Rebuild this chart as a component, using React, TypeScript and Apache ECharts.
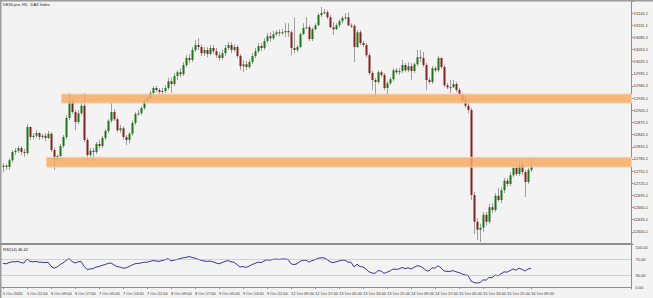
import React, { useEffect, useRef } from 'react';
import * as echarts from 'echarts';

const chartTitle = 'DE30.pro, H1:  DAX Index';
const rsiTitle = 'RSI(14) 46.42';

const tickLabels = ['5 Oct 2020', '5 Oct 21:00', '6 Oct 09:00', '6 Oct 17:00', '7 Oct 05:00', '7 Oct 13:00', '7 Oct 21:00', '8 Oct 09:00', '8 Oct 17:00', '9 Oct 05:00', '9 Oct 13:00', '9 Oct 21:00', '12 Oct 09:00', '12 Oct 17:00', '13 Oct 05:00', '13 Oct 13:00', '13 Oct 21:00', '14 Oct 09:00', '14 Oct 17:00', '15 Oct 05:00', '15 Oct 13:00', '15 Oct 21:00', '16 Oct 09:00'];
const barsPerTick = 8;
const slotCount = 210;

const opens = [
  12765, 12768, 12765, 12782, 12802, 12805, 12812, 12802, 12800, 12864,
  12839, 12842, 12849, 12839, 12842, 12837, 12847, 12807, 12785, 12792,
  12817, 12839, 12886, 12928, 12901, 12876, 12898, 12916, 12832, 12795,
  12805, 12802, 12822, 12817, 12837, 12854, 12879, 12901, 12883, 12856,
  12861, 12839, 12832, 12847, 12874, 12896, 12898, 12911, 12928, 12935,
  12948, 12960, 12955, 12950, 12953, 12960, 12977, 12970, 12990, 12999,
  12994, 13017, 13034, 13029, 13054, 13066, 13061, 13046, 13054,
  13044, 13059, 13051, 13041, 13034, 13046, 13059, 13066, 13054, 13061,
  13039, 13014, 13019, 13012, 13024, 13039, 13051, 13064, 13059, 13076,
  13088, 13083, 13093, 13098, 13096, 13098, 13101, 13098, 13059, 13054,
  13061, 13093, 13108, 13110, 13081, 13105, 13115, 13140, 13145, 13147,
  13135, 13110, 13105, 13115, 13125, 13133, 13135, 13115, 13113, 13061,
  13098, 13071, 13066, 13041, 12997, 12980, 12975, 12999, 12992, 12960,
  12972, 12982, 13004, 12999, 13002, 13017, 13004, 13014, 13002, 13019,
  13036, 13034, 13017, 12980, 12975, 13009, 13004, 13034, 13012, 12967, 12962,
  12962, 12970, 12955, 12943, 12930, 12916, 12906, 12696, 12630, 12610,
  12615, 12647, 12630, 12666, 12659, 12694, 12684, 12708, 12731, 12723,
  12745, 12763, 12748, 12770, 12753, 12728, 12758,
];
const closes = [
  12768, 12765, 12782, 12802, 12805, 12812, 12802, 12800, 12864, 12839,
  12842, 12849, 12839, 12842, 12837, 12847, 12807, 12785, 12792, 12817,
  12839, 12886, 12928, 12901, 12876, 12898, 12916, 12832, 12795, 12805,
  12802, 12822, 12817, 12837, 12854, 12879, 12901, 12883, 12856, 12861,
  12839, 12832, 12847, 12874, 12896, 12898, 12911, 12928, 12935, 12948,
  12960, 12955, 12950, 12953, 12960, 12977, 12970, 12990, 12999, 12994,
  13017, 13034, 13029, 13054, 13066, 13061, 13046, 13054, 13044,
  13059, 13051, 13041, 13034, 13046, 13059, 13066, 13054, 13061, 13039,
  13014, 13019, 13012, 13024, 13039, 13051, 13064, 13059, 13076, 13088,
  13083, 13093, 13098, 13096, 13098, 13101, 13098, 13059, 13054, 13061,
  13093, 13108, 13110, 13081, 13105, 13115, 13140, 13145, 13147, 13135,
  13110, 13105, 13115, 13125, 13133, 13135, 13115, 13113, 13061, 13098,
  13071, 13066, 13041, 12997, 12980, 12975, 12999, 12992, 12960, 12972,
  12982, 13004, 12999, 13002, 13017, 13004, 13014, 13002, 13019, 13036,
  13034, 13017, 12980, 12975, 13009, 13004, 13034, 13012, 12967, 12962, 12961,
  12970, 12955, 12943, 12930, 12916, 12906, 12696, 12630, 12610, 12615,
  12647, 12630, 12666, 12659, 12694, 12684, 12708, 12731, 12723, 12745,
  12763, 12748, 12770, 12753, 12728, 12758, 12768,
];
const lows = [
  12753, 12758, 12758, 12777, 12795, 12800, 12795, 12790, 12795, 12832,
  12834, 12837, 12832, 12834, 12829, 12834, 12802, 12758, 12777, 12787,
  12812, 12834, 12881, 12896, 12856, 12871, 12893, 12827, 12782, 12787,
  12775, 12797, 12810, 12812, 12832, 12849, 12874, 12879, 12851, 12849,
  12832, 12819, 12824, 12842, 12869, 12891, 12893, 12906, 12923, 12930,
  12943, 12950, 12945, 12945, 12948, 12955, 12948, 12965, 12980, 12987,
  12990, 13012, 13022, 13024, 13049, 13054, 13039, 13039, 13036,
  13041, 13044, 13034, 13027, 13029, 13039, 13054, 13046, 13049, 13034,
  13004, 12999, 13004, 13007, 13019, 13034, 13046, 13051, 13054, 13071,
  13073, 13078, 13088, 13088, 13091, 13086, 13086, 13041, 13046, 13049,
  13059, 13091, 13105, 13076, 13076, 13103, 13113, 13135, 13142, 13130,
  13108, 13091, 13103, 13110, 13120, 13128, 13113, 13108, 13024, 13059,
  13066, 13061, 13036, 12992, 12955, 12938, 12970, 12987, 12955, 12943,
  12967, 12977, 12994, 12992, 12997, 12999, 12999, 12980, 12997, 13014,
  13024, 13012, 12955, 12970, 12970, 12999, 12999, 13007, 12962, 12957, 12948,
  12960, 12950, 12938, 12925, 12911, 12898, 12684, 12600, 12585, 12580,
  12605, 12620, 12625, 12652, 12654, 12679, 12676, 12701, 12716, 12718,
  12740, 12743, 12743, 12745, 12691, 12723, 12753,
];
const highs = [
  12775, 12773, 12787, 12807, 12812, 12817, 12817, 12810, 12871, 12866,
  12849, 12856, 12851, 12847, 12849, 12854, 12851, 12812, 12795, 12822,
  12844, 12893, 12948, 12933, 12906, 12906, 12928, 12948, 12837, 12812,
  12812, 12827, 12832, 12842, 12859, 12883, 12923, 12908, 12888, 12869,
  12866, 12844, 12851, 12879, 12901, 12906, 12916, 12933, 12940, 12953,
  12965, 12965, 12960, 12960, 12967, 12985, 12985, 12997, 13004, 13009,
  13024, 13041, 13044, 13061, 13078, 13083, 13068, 13061, 13061,
  13066, 13066, 13059, 13049, 13054, 13066, 13073, 13073, 13068, 13066,
  13044, 13029, 13027, 13031, 13046, 13059, 13071, 13071, 13083, 13096,
  13098, 13101, 13103, 13105, 13105, 13120, 13120, 13103, 13133, 13066,
  13096, 13120, 13135, 13115, 13110, 13120, 13145, 13160, 13155, 13152,
  13140, 13123, 13120, 13130, 13138, 13145, 13147, 13120, 13118, 13103,
  13103, 13076, 13071, 13046, 13002, 12985, 13004, 13004, 12997, 12977,
  12987, 13009, 13009, 13009, 13029, 13022, 13024, 13022, 13024, 13054,
  13054, 13049, 13022, 12985, 13014, 13014, 13039, 13036, 13017, 12972, 12980,
  12980, 12975, 12960, 12948, 12943, 12935, 12911, 12703, 12639, 12625,
  12654, 12654, 12674, 12676, 12701, 12713, 12716, 12738, 12738, 12753,
  12770, 12770, 12782, 12777, 12758, 12763, 12787,
];

const rsiValues = [
  59, 58, 61, 63, 63, 64, 61, 60, 70, 64,
  63, 64, 62, 62, 61, 62, 52, 47, 50, 56,
  60, 66, 71, 64, 60, 63, 64, 52, 44, 45,
  46, 50, 51, 54, 56, 59, 60, 55, 51, 50,
  47, 48, 51, 55, 58, 59, 60, 62, 62, 64,
  66, 65, 64, 66, 68, 71, 65, 67, 69, 71,
  73, 74, 76, 74, 72, 69, 67, 65, 64, 65,
  63, 60, 58, 61, 64, 66, 63, 62, 56, 50,
  51, 49, 52, 56, 59, 62, 61, 65, 68, 67,
  69, 70, 69, 70, 70, 69, 58, 56, 58, 64,
  67, 67, 62, 66, 68, 72, 73, 73, 69, 63,
  61, 63, 65, 67, 67, 62, 62, 50, 57, 51,
  50, 45, 38, 35, 34, 41, 40, 34, 37, 40,
  45, 44, 45, 49, 46, 48, 45, 49, 53, 52,
  48, 41, 40, 48, 47, 53, 48, 40, 39, 39,
  41, 38, 36, 33, 30, 29, 15, 11, 10, 11,
  18, 17, 24, 23, 30, 28, 33, 38, 37, 41,
  45, 42, 47, 44, 40, 45, 46.42,
];
const rsiLevels = [70, 30];
const rsiLabelValues = [0, 30, 70, 100];

// zones: [first bar, upper price, lower price]
const zoneStarts = [20, 15];
const zoneTops = [12945, 12789];
const zoneBottoms = [12923, 12765];

const FONT = '"Liberation Sans", Arial, sans-serif';
const AXIS_GRAY = '#8e8e8e';
const BULL = '#167a16';
const BEAR = '#8a1f1f';
const WICK = '#9e9e9e';

export default function App() {
  const ref = useRef<HTMLDivElement>(null);
  useEffect(() => {
    if (!ref.current) return;
    const chart = echarts.init(ref.current, null, { renderer: 'svg' });
    const slots = Array.from({ length: slotCount }, (_, i) => String(i));
    const candleData = opens.map((o, i) => [i, o, closes[i], lows[i], highs[i]]);
    const zoneData = zoneStarts.map((s, i) => [s, zoneTops[i], zoneBottoms[i]]);
    const showTick = (index: number) => index % barsPerTick === 0 && index / barsPerTick < tickLabels.length;

    const option: any = {
      animation: false,
      backgroundColor: '#f3f3f3',
      grid: [
        { left: 1.5, top: 1.5, width: 630, height: 242.5, show: false },
        { left: 1.5, top: 245, width: 630, height: 44, show: false },
      ],
      xAxis: [
        {
          type: 'category', gridIndex: 0, data: slots, boundaryGap: true,
          axisLine: { show: true, lineStyle: { color: AXIS_GRAY, width: 2 } },
          axisTick: { show: false }, axisLabel: { show: false }, splitLine: { show: false },
        },
        {
          type: 'category', gridIndex: 1, data: slots, boundaryGap: true,
          axisLine: { show: true, lineStyle: { color: AXIS_GRAY, width: 1 } },
          axisTick: { show: true, interval: showTick, alignWithLabel: true, length: 2, lineStyle: { color: AXIS_GRAY } },
          axisLabel: {
            interval: showTick, align: 'left', margin: 2, fontSize: 4, color: '#333', fontFamily: FONT,
            formatter: (v: string) => tickLabels[Number(v) / barsPerTick] ?? '',
          },
          splitLine: { show: false },
        },
      ],
      yAxis: [
        {
          type: 'value', gridIndex: 0, position: 'right', min: 12575.1, max: 13173.6, interval: 30,
          axisLine: { show: true, lineStyle: { color: AXIS_GRAY } },
          axisTick: { show: true, length: 2, lineStyle: { color: AXIS_GRAY } },
          axisLabel: {
            margin: 2, fontSize: 4, color: '#333', fontFamily: FONT,
            formatter: (v: number) => (v > 12590 && v < 13150 ? v.toFixed(1) : ''),
          },
          splitLine: { show: false },
        },
        {
          type: 'value', gridIndex: 1, position: 'right', min: -5, max: 105, interval: 5,
          axisLine: { show: true, lineStyle: { color: AXIS_GRAY } },
          axisTick: { show: false },
          axisLabel: {
            margin: 4, fontSize: 4, color: '#333', fontFamily: FONT,
            formatter: (v: number) => (rsiLabelValues.some((r) => Math.abs(r - v) < 1e-6) ? v.toFixed(2) : ''),
          },
          splitLine: { show: false },
        },
      ],
      series: [
        {
          type: 'custom', xAxisIndex: 0, yAxisIndex: 0, data: candleData, z: 2, clip: true,
          encode: { x: 0, y: [1, 2, 3, 4] },
          renderItem: (params: any, api: any) => {
            const i = api.value(0);
            const o = api.value(1), c = api.value(2), l = api.value(3), h = api.value(4);
            const pO = api.coord([i, o]);
            const pC = api.coord([i, c]);
            const pL = api.coord([i, l]);
            const pH = api.coord([i, h]);
            const x = Math.round(pO[0]);
            const top = Math.min(pO[1], pC[1]);
            const bodyH = Math.max(1, Math.abs(pO[1] - pC[1]));
            const col = c > o ? BULL : c < o ? BEAR : '#777';
            return {
              type: 'group',
              children: [
                { type: 'line', shape: { x1: x + 0.5, y1: pH[1], x2: x + 0.5, y2: pL[1] }, style: { stroke: WICK, lineWidth: 1 } },
                { type: 'rect', shape: { x: x - 0.5, y: top, width: 2, height: bodyH }, style: { fill: col } },
              ],
            };
          },
        },
        {
          type: 'custom', xAxisIndex: 0, yAxisIndex: 0, data: zoneData, z: 3, clip: true,
          encode: { x: 0, y: [1, 2] },
          renderItem: (params: any, api: any) => {
            const s = api.value(0);
            const pT = api.coord([s, api.value(1)]);
            const pB = api.coord([s, api.value(2)]);
            const cs = params.coordSys;
            const x0 = pT[0] - 1.5;
            return {
              type: 'rect',
              shape: { x: x0, y: pT[1], width: cs.x + cs.width - x0, height: pB[1] - pT[1] },
              style: { fill: 'rgba(247,172,101,0.85)', stroke: 'rgba(250,208,168,0.95)', lineWidth: 1 },
            };
          },
        },
        {
          type: 'line', xAxisIndex: 1, yAxisIndex: 1, data: rsiValues, symbol: 'none', z: 3,
          lineStyle: { color: '#3a3a96', width: 1 },
          markLine: {
            silent: true, symbol: ['none', 'none'], label: { show: false },
            lineStyle: { type: 'dotted', color: '#b0b0b0', width: 1 },
            data: rsiLevels.map((v) => ({ yAxis: v })),
          },
        },
      ],
      graphic: [
        { type: 'rect', left: 0, top: 0, shape: { width: 653, height: 1.5 }, style: { fill: '#9c9c9c' }, silent: true },
        { type: 'rect', left: 0, top: 0, shape: { width: 1.5, height: 298 }, style: { fill: '#9c9c9c' }, silent: true },
        { type: 'text', left: 3, top: 2.5, style: { text: chartTitle, fontSize: 4, fill: '#222', fontFamily: FONT }, silent: true },
        { type: 'text', left: 3, top: 247, style: { text: rsiTitle, fontSize: 4, fill: '#222', fontFamily: FONT }, silent: true },
      ],
    };
    chart.setOption(option);
    return () => chart.dispose();
  }, []);
  return (
    <div
      ref={ref}
      style={{ position: 'fixed', left: 0, top: 0, width: 653, height: 298, background: '#f3f3f3' }}
    />
  );
}
